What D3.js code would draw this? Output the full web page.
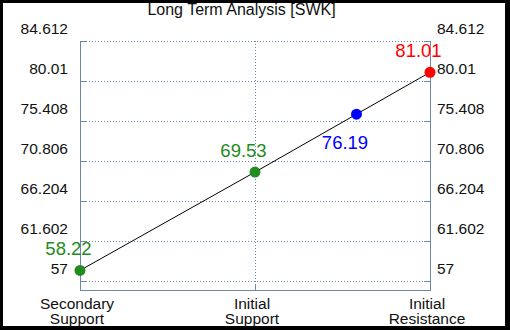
<!DOCTYPE html>
<html>
<head>
<meta charset="utf-8">
<script src="https://cdn.jsdelivr.net/npm/d3@7"></script>
<style>
  html, body { margin: 0; padding: 0; background: #000; }
  svg { display: block; }
  text { font-family: "Liberation Sans", Arial, sans-serif; }
</style>
</head>
<body>
<div id="chart"></div>
<script>
// chart data
var title = "Long Term Analysis [SWK]";
var categories = [["Secondary", "Support"], ["Initial", "Support"], ["Initial", "Resistance"]];
var categoryPos = [0, 1, 2];
var pointPos = [0, 1, 1.58, 2];
var pointValues = [58.22, 69.53, 76.19, 81.01];
var pointColors = ["#228b22", "#228b22", "#0000ff", "#ff0000"];
var labelBelow = [false, false, true, false];
var tickValues = [57, 61.602, 66.204, 70.806, 75.408, 80.01, 84.612];

var width = 510, height = 330;
var plotLeft = 80, plotRight = 430, plotTop = 41, plotBottom = 281, frameBottom = 290;
var axisColor = "#6f87a6";

var svg = d3.select("#chart").append("svg")
	.attr("width", width)
	.attr("height", height);

svg.append("rect")
	.attr("x", 3).attr("y", 3)
	.attr("width", 502).attr("height", 323)
	.attr("fill", "#fff");

var x = d3.scaleLinear().domain([0, 2]).range([plotLeft, plotRight]);
var y = d3.scaleLinear().domain([tickValues[0], tickValues[tickValues.length - 1]]).range([plotBottom, plotTop]);

// horizontal grid lines + inward ticks
var grid = svg.append("g");
tickValues.forEach(function(t) {
	var yy = Math.round(y(t)) + 0.5;
	grid.append("line")
		.attr("x1", plotLeft).attr("x2", plotRight)
		.attr("y1", yy).attr("y2", yy)
		.attr("stroke", axisColor).attr("stroke-dasharray", "1,2");
	grid.append("line")
		.attr("x1", plotLeft).attr("x2", plotLeft + 6)
		.attr("y1", yy).attr("y2", yy)
		.attr("stroke", axisColor);
	grid.append("line")
		.attr("x1", plotRight - 6).attr("x2", plotRight)
		.attr("y1", yy).attr("y2", yy)
		.attr("stroke", axisColor);
});

// vertical grid at inner categories
categoryPos.slice(1, -1).forEach(function(c) {
	var xx = Math.round(x(c)) + 0.5;
	grid.append("line")
		.attr("x1", xx).attr("x2", xx)
		.attr("y1", plotTop).attr("y2", frameBottom)
		.attr("stroke", axisColor).attr("stroke-dasharray", "1,2");
	grid.append("line")
		.attr("x1", xx).attr("x2", xx)
		.attr("y1", frameBottom - 6).attr("y2", frameBottom)
		.attr("stroke", axisColor);
});

// frame: left, right, bottom
svg.append("line").attr("x1", plotLeft + 0.5).attr("x2", plotLeft + 0.5).attr("y1", plotTop).attr("y2", frameBottom + 0.5).attr("stroke", axisColor);
svg.append("line").attr("x1", plotRight + 0.5).attr("x2", plotRight + 0.5).attr("y1", plotTop).attr("y2", frameBottom + 0.5).attr("stroke", axisColor);
svg.append("line").attr("x1", plotLeft).attr("x2", plotRight + 1).attr("y1", frameBottom + 0.5).attr("y2", frameBottom + 0.5).attr("stroke", axisColor);

// tick labels both sides
tickValues.forEach(function(t) {
	svg.append("text")
		.attr("x", 68).attr("y", y(t) - 7)
		.attr("text-anchor", "end")
		.style("font-size", "15.5px").style("fill", "#111")
		.text(t);
	svg.append("text")
		.attr("x", 437).attr("y", y(t) - 7)
		.attr("text-anchor", "start")
		.style("font-size", "15.5px").style("fill", "#111")
		.text(t);
});

// category labels
categories.forEach(function(lines, i) {
	lines.forEach(function(s, j) {
		svg.append("text")
			.attr("x", x(categoryPos[i]) - 3)
			.attr("y", 309 + j * 15)
			.attr("text-anchor", "middle")
			.style("font-size", "15.5px").style("fill", "#111")
			.text(s);
	});
});

// line through points
var pts = pointPos.map(function(p, i) { return [x(p), y(pointValues[i])]; });
svg.append("path")
	.attr("d", d3.line()(pts))
	.attr("fill", "none")
	.attr("stroke", "#000")
	.attr("stroke-width", 1);

// dots + value labels
pts.forEach(function(p, i) {
	svg.append("circle")
		.attr("cx", p[0]).attr("cy", p[1]).attr("r", 5.5)
		.attr("fill", pointColors[i]);
	svg.append("text")
		.attr("x", p[0] - 11.5)
		.attr("y", labelBelow[i] ? p[1] + 35 : p[1] - 15)
		.attr("text-anchor", "middle")
		.style("font-size", "18.5px")
		.style("fill", pointColors[i])
		.text(pointValues[i].toFixed(2));
});

svg.append("text")
	.attr("x", 241.5).attr("y", 15)
	.attr("text-anchor", "middle")
	.style("font-size", "16px").style("fill", "#111")
	.text(title);
</script>
</body>
</html>
